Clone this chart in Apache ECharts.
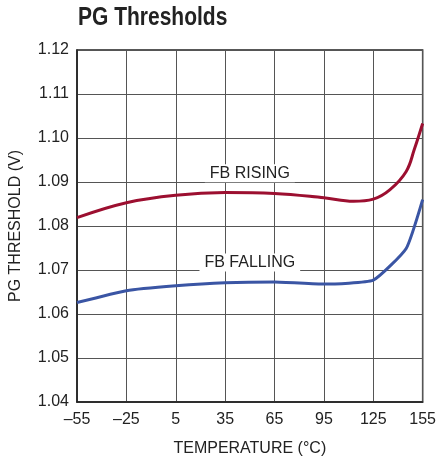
<!DOCTYPE html>
<html><head><meta charset="utf-8">
<script src="https://cdn.jsdelivr.net/npm/echarts@6/dist/echarts.min.js"></script>
<style>html,body{margin:0;padding:0;background:#fff}#c{width:439px;height:462px}</style>
</head><body><div id="c"></div>
<script>
const risingTemp = [-55, -25, 5, 35, 65, 95, 113, 125, 135, 145, 150, 155];
const risingV = [1.0819, 1.0853, 1.0870, 1.0876, 1.0874, 1.0864, 1.0856, 1.0861, 1.0882, 1.0924, 1.0975, 1.1033];
const fallingTemp = [-55, -25, 5, 35, 65, 95, 125, 145, 155];
const fallingV = [1.0626, 1.0653, 1.0664, 1.0671, 1.0673, 1.0668, 1.0677, 1.0749, 1.0860];
const xTicks = [-55, -25, 5, 35, 65, 95, 125, 155];
const yTicks = [1.04, 1.05, 1.06, 1.07, 1.08, 1.09, 1.10, 1.11, 1.12];
const labelNames = ['FB RISING', 'FB FALLING'];
const labelAt = [[50, 1.0920], [50, 1.0717]];

const font = '"Liberation Sans", Arial, sans-serif';
const chart = echarts.init(document.getElementById('c'), null, {renderer: 'canvas'});
const pair = (xs, ys) => xs.map((x, i) => [x, ys[i]]);
function labelPoint(name, at) {
  return {
    symbol: 'circle', symbolSize: 1, silent: true,
    itemStyle: {color: 'rgba(0,0,0,0)'},
    label: {show: true, position: 'inside', formatter: name, color: '#222', fontFamily: font,
      fontSize: 16, backgroundColor: '#fff', padding: [1, 5]},
    data: [{coord: at}]
  };
}
chart.setOption({
  animation: false,
  graphic: [{type: 'text', left: 78, top: 6, scaleX: 0.84,
    style: {text: 'PG Thresholds', font: 'bold 25px ' + font, fill: '#222'}}],
  grid: {left: 76, right: 11, top: 50, bottom: 59, show: true, borderColor: '#222', borderWidth: 1.5, backgroundColor: 'transparent'},
  xAxis: {
    type: 'value', min: -55, max: 155, interval: 30,
    name: 'TEMPERATURE (°C)', nameLocation: 'middle', nameGap: 39,
    nameTextStyle: {fontFamily: font, fontSize: 16, color: '#222'},
    axisLine: {show: true, onZero: false, lineStyle: {color: '#222', width: 1.5}},
    axisTick: {show: false},
    axisLabel: {fontFamily: font, fontSize: 16, color: '#222', margin: 10,
      formatter: v => xTicks.includes(v) ? String(v).replace('-', '\u2013') : ''},
    splitLine: {show: true, lineStyle: {color: '#555', width: 1}}
  },
  yAxis: {
    type: 'value', min: 1.04, max: 1.12, interval: 0.01,
    name: 'PG THRESHOLD (V)', nameLocation: 'middle', nameGap: 53,
    nameTextStyle: {fontFamily: font, fontSize: 16, color: '#222'},
    axisLine: {show: true, onZero: false, lineStyle: {color: '#222', width: 1.5}},
    axisTick: {show: false},
    axisLabel: {fontFamily: font, fontSize: 16, color: '#222', margin: 8,
      formatter: v => yTicks.find(t => Math.abs(t - v) < 1e-6).toFixed(2)},
    splitLine: {show: true, lineStyle: {color: '#555', width: 1}}
  },
  series: [
    {type: 'line', name: 'rising', data: pair(risingTemp, risingV), smooth: 0.4, symbol: 'none',
      lineStyle: {color: '#9c0f30', width: 3}, markPoint: labelPoint(labelNames[0], labelAt[0]), z: 3},
    {type: 'line', name: 'falling', data: pair(fallingTemp, fallingV), smooth: 0.15, symbol: 'none',
      lineStyle: {color: '#3a55a4', width: 3}, markPoint: labelPoint(labelNames[1], labelAt[1]), z: 3}
  ]
});
</script></body></html>
